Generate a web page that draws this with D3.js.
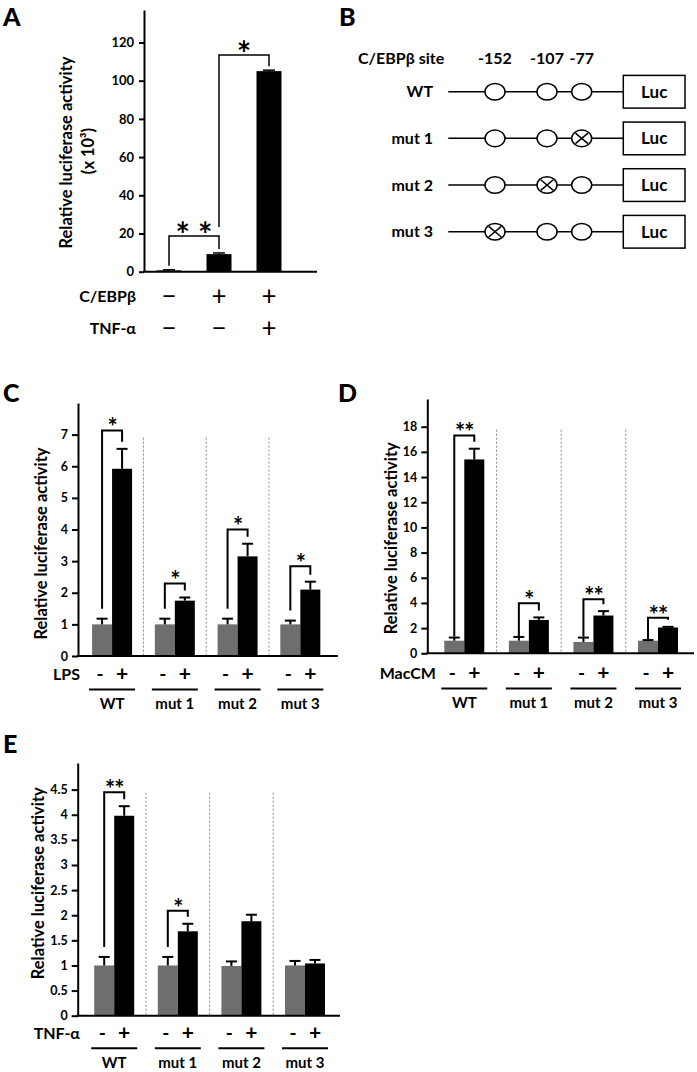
<!DOCTYPE html>
<html><head><meta charset="utf-8">
<script src="https://cdn.jsdelivr.net/npm/d3@7"></script>
<style>
body{margin:0;background:#fff;}
svg{display:block;}
</style></head><body>
<svg id="fig" width="697" height="1072"></svg>
<script>
// ---------------- DATA ----------------
// Panel A
const aGroups = ["a1", "a2", "a3"];
const aValues = [0.7, 9.2, 105.0];
const aErrors = [0.3, 0.6, 0.5];
const aCebpb = ["−", "+", "+"];
const aTnf = ["−", "−", "+"];
const aTicks = [0, 20, 40, 60, 80, 100, 120];
const aSigFrom = [0, 1];
const aSigTo = [1, 2];
const aSigLevel = [18.7, 113.4];
const aSigLabel = ["* *", "*"];

// Panel B
const bConstructs = ["WT", "mut 1", "mut 2", "mut 3"];
const bSites = [-152, -107, -77];
const bMutated = [null, -77, -107, -152];

// Panels C, D, E
const groups = ["WT", "mut 1", "mut 2", "mut 3"];

const cCtrl = [1.0, 1.0, 1.0, 1.0];
const cCtrlSd = [0.18, 0.18, 0.18, 0.12];
const cTreat = [5.92, 1.75, 3.15, 2.10];
const cTreatSd = [0.63, 0.10, 0.40, 0.25];
const cTicks = [0, 1, 2, 3, 4, 5, 6, 7];
const cSigLevel = [7.13, 2.29, 4.0, 2.84];
const cSigLabel = ["*", "*", "*", "*"];

const dCtrl = [1.0, 1.0, 0.9, 1.0];
const dCtrlSd = [0.25, 0.30, 0.35, 0.05];
const dTreat = [15.4, 2.65, 3.0, 2.05];
const dTreatSd = [0.85, 0.20, 0.35, 0.05];
const dTicks = [0, 2, 4, 6, 8, 10, 12, 14, 16, 18];
const dSigLevel = [17.3, 3.97, 4.29, 2.83];
const dSigLabel = ["**", "*", "**", "**"];

const eCtrl = [1.0, 1.0, 0.99, 1.0];
const eCtrlSd = [0.17, 0.17, 0.09, 0.09];
const eTreat = [3.98, 1.68, 1.88, 1.04];
const eTreatSd = [0.19, 0.15, 0.13, 0.07];
const eTicks = [0, 0.5, 1, 1.5, 2, 2.5, 3, 3.5, 4, 4.5];
const eSigLevel = [4.45, 2.09, null, null];
const eSigLabel = ["**", "*", null, null];

// ---------------- DRAWING ----------------
const FONT = "Lato, 'Open Sans', 'DejaVu Sans', sans-serif";
const GRAY = "#6e6e6e";
const svg = d3.select("#fig").style("font-family", FONT);

function txt(g, x, y, s, size, opts = {}) {
  return g.append("text")
    .attr("x", x).attr("y", y)
    .attr("dy", opts.dy || "0.35em")
    .attr("text-anchor", opts.anchor || "middle")
    .attr("font-weight", opts.weight || "bold")
    .attr("font-size", size)
    .attr("fill", "#000")
    .text(s);
}

function styleAxis(sel, fs) {
  sel.select(".domain").attr("stroke", "#000").attr("stroke-width", 2);
  sel.selectAll(".tick line").attr("stroke", "#000").attr("stroke-width", 2);
  sel.selectAll(".tick text").attr("font-size", fs).attr("font-weight", "bold")
    .attr("font-family", FONT).attr("fill", "#000");
  sel.attr("font-family", FONT);
}

// fit title size so that text spans target width
const TITLE_STR = "Relative luciferase activity";
const probe = svg.append("text").attr("font-size", 100).attr("font-weight", "bold").text(TITLE_STR);
const probeLen = probe.node().getComputedTextLength();
probe.remove();
const TITLE_FS = 100 * 192 / probeLen;

function rotTitle(g, x, y, s, fs) {
  g.append("text")
    .attr("transform", `translate(${x},${y}) rotate(-90)`)
    .attr("text-anchor", "middle").attr("dy", "0.35em")
    .attr("font-weight", "bold").attr("font-size", fs)
    .text(s);
}

function line(g, x1, y1, x2, y2, w = 2, color = "#000") {
  return g.append("line").attr("x1", x1).attr("y1", y1).attr("x2", x2).attr("y2", y2)
    .attr("stroke", color).attr("stroke-width", w);
}

// Panel letters
[["A", 3, 26], ["B", 339, 26], ["C", 3, 402], ["D", 338, 402], ["E", 3, 753]].forEach(([l, x, y]) => {
  svg.append("text").attr("x", x).attr("y", y).attr("font-size", 25).attr("font-weight", "900").text(l);
});

// ---------- Panel A ----------
(function () {
  const g = svg.append("g");
  const x = d3.scaleBand().domain(aGroups).range([144, 294]).paddingInner(0.5).paddingOuter(0.25);
  const y = d3.scaleLinear().domain([0, 137]).range([271.7, 10]);
  const cx = i => x(aGroups[i]) + x.bandwidth() / 2;

  g.append("g").attr("transform", "translate(144,0)")
    .call(d3.axisLeft(y).tickValues(aTicks).tickSize(5).tickPadding(5).tickSizeOuter(0))
    .call(styleAxis, 13);
  line(g, 143, y(0), 317, y(0), 2);

  g.selectAll("rect.bar").data(aValues).join("rect")
    .attr("x", (d, i) => x(aGroups[i])).attr("width", x.bandwidth())
    .attr("y", d => y(d)).attr("height", d => y(0) - y(d)).attr("fill", "#000");
  aValues.forEach((v, i) => {
    line(g, cx(i), y(v), cx(i), y(v + aErrors[i]), 1.5);
    line(g, cx(i) - 6, y(v + aErrors[i]), cx(i) + 6, y(v + aErrors[i]), 1.5);
  });

  aSigLevel.forEach((lev, k) => {
    const f = aSigFrom[k], t = aSigTo[k];
    const top = y(lev);
    let leftBottom = y(aValues[f] + aErrors[f]) - 4;
    aSigLevel.forEach((lev2, k2) => {
      if (k2 !== k && lev2 < lev && aSigFrom[k2] <= f && aSigTo[k2] >= f) leftBottom = y(lev2) - 9;
    });
    const rightBottom = y(aValues[t] + aErrors[t]) - 4;
    g.append("path")
      .attr("d", `M${cx(f)},${leftBottom}V${top}H${cx(t)}V${rightBottom}`)
      .attr("fill", "none").attr("stroke", "#000").attr("stroke-width", 1.5);
    const fs = 34;
    g.append("text").attr("x", (cx(f) + cx(t)) / 2).attr("y", top - 9 + 0.6 * fs)
      .attr("text-anchor", "middle").attr("font-size", fs).attr("font-weight", "bold")
      .text(aSigLabel[k]);
  });

  txt(g, 136, 296.7, "C/EBPβ", 16, { anchor: "end" });
  txt(g, 136, 328, "TNF-α", 16, { anchor: "end" });
  aCebpb.forEach((s, i) => txt(g, cx(i), 296.7, s, 26, { weight: "normal", dy: "0.33em" }));
  aTnf.forEach((s, i) => txt(g, cx(i), 328, s, 26, { weight: "normal", dy: "0.33em" }));

  rotTitle(g, 66.7, 152.5, TITLE_STR, TITLE_FS);
  rotTitle(g, 88.3, 151, "(x 10³)", TITLE_FS);
})();

// ---------- Panel B ----------
(function () {
  const g = svg.append("g");
  const row = d3.scalePoint().domain(bConstructs).range([91.7, 231.7]);
  const sx = d3.scaleLinear().domain([-152, -77]).range([495, 581.7]);
  txt(g, 358, 58.3, "C/EBPβ site", 16, { anchor: "start" });
  bSites.forEach(s => txt(g, sx(s), 58.3, String(s), 16));
  bConstructs.forEach((c, i) => {
    const yy = row(c);
    txt(g, 433, yy, c, 16, { anchor: "end" });
    line(g, 448.3, yy, 623.3, yy, 1.5);
    bSites.forEach(s => {
      g.append("ellipse").attr("cx", sx(s)).attr("cy", yy).attr("rx", 10).attr("ry", 8.3)
        .attr("fill", "#fff").attr("stroke", "#000").attr("stroke-width", 1.5);
      if (bMutated[i] === s) {
        const dx = 6.3, dy = 5.3;
        line(g, sx(s) - dx, yy - dy, sx(s) + dx, yy + dy, 1.5);
        line(g, sx(s) - dx, yy + dy, sx(s) + dx, yy - dy, 1.5);
      }
    });
    g.append("rect").attr("x", 623.3).attr("y", yy - 16.3).attr("width", 61.7).attr("height", 32.7)
      .attr("fill", "#fff").attr("stroke", "#000").attr("stroke-width", 1.5);
    txt(g, 654.2, yy, "Luc", 17);
  });
})();

// ---------- Panels C, D, E ----------
function groupedPanel(o) {
  const g = svg.append("g");
  const x = d3.scaleBand().domain(groups).range(o.xRange).padding(0);
  const y = d3.scaleLinear().domain(o.yDomain).range(o.yRange);
  const c = i => x(groups[i]) + x.bandwidth() / 2;
  const bw = 20;
  const base = y(0);

  // separators
  const sepTop = y(o.ticks[o.ticks.length - 1]) + 3;
  groups.slice(1).forEach(gr => {
    line(g, x(gr), sepTop, x(gr), base, 1, "#8a8a8a").attr("stroke-dasharray", "2,2");
  });

  g.append("g").attr("transform", `translate(${o.axisX},0)`)
    .call(d3.axisLeft(y).tickValues(o.ticks).tickFormat(d3.format("~g")).tickSize(6).tickPadding(4).tickSizeOuter(0))
    .call(styleAxis, 12.5);

  // bars
  g.selectAll("rect.ctrl").data(o.ctrl).join("rect").attr("class", "ctrl")
    .attr("x", (d, i) => c(i) - bw).attr("width", bw)
    .attr("y", d => y(d)).attr("height", d => base - y(d)).attr("fill", GRAY);
  g.selectAll("rect.trt").data(o.treat).join("rect").attr("class", "trt")
    .attr("x", (d, i) => c(i)).attr("width", bw)
    .attr("y", d => y(d)).attr("height", d => base - y(d)).attr("fill", "#000");

  line(g, o.axisX - 1, base, o.baseEnd, base, 2);

  // error bars
  const err = (xc, v, sd) => {
    line(g, xc, y(v), xc, y(v + sd), 2);
    line(g, xc - 5.5, y(v + sd), xc + 5.5, y(v + sd), 2);
  };
  o.ctrl.forEach((v, i) => err(c(i) - bw / 2, v, o.ctrlSd[i]));
  o.treat.forEach((v, i) => err(c(i) + bw / 2, v, o.treatSd[i]));

  // significance brackets
  o.sigLevel.forEach((lev, i) => {
    if (lev == null) return;
    const xl = c(i) - bw / 2, xr = c(i) + bw / 2;
    const top = y(lev);
    const lb = y(o.ctrl[i] + o.ctrlSd[i]) - o.leftGap;
    const rb = y(o.treat[i] + o.treatSd[i]) - 7;
    g.append("path").attr("d", `M${xl},${lb}V${top}H${xr}V${rb}`)
      .attr("fill", "none").attr("stroke", "#000").attr("stroke-width", 2);
    const fs = 24;
    g.append("text").attr("x", (xl + xr) / 2).attr("y", top - 8.5 + 0.6 * fs)
      .attr("text-anchor", "middle").attr("font-size", fs).attr("font-weight", "bold")
      .attr("letter-spacing", -1)
      .text(o.sigLabel[i]);
  });

  // treatment row
  txt(g, o.rowLabelX, o.rowY, o.rowLabel, 16, { anchor: "end" });
  groups.forEach((gr, i) => {
    txt(g, c(i) - bw / 2 - 2, o.rowY, "-", 19);
    txt(g, c(i) + bw / 2, o.rowY, "+", 21, { dy: "0.33em" });
    line(g, c(i) - 23, o.lineY, c(i) + 23, o.lineY, 2);
    txt(g, c(i), o.nameY, gr, 15);
  });

  rotTitle(g, o.titleX, o.titleY, TITLE_STR, TITLE_FS);
}

groupedPanel({
  xRange: [80.7, 331.7], axisX: 78, baseEnd: 338,
  yDomain: [0, 8], yRange: [656, 403], ticks: cTicks,
  ctrl: cCtrl, ctrlSd: cCtrlSd, treat: cTreat, treatSd: cTreatSd,
  sigLevel: cSigLevel, sigLabel: cSigLabel, leftGap: 10,
  rowLabel: "LPS", rowLabelX: 80, rowY: 674.5, lineY: 689.5, nameY: 703.5,
  titleX: 41.7, titleY: 543.5
});

groupedPanel({
  xRange: [432, 690.3], axisX: 427.3, baseEnd: 694,
  yDomain: [0, 20.2], yRange: [653.3, 399], ticks: dTicks,
  ctrl: dCtrl, ctrlSd: dCtrlSd, treat: dTreat, treatSd: dTreatSd,
  sigLevel: dSigLevel, sigLabel: dSigLabel, leftGap: 1,
  rowLabel: "MacCM", rowLabelX: 436, rowY: 673.5, lineY: 688.5, nameY: 702.5,
  titleX: 391.7, titleY: 538.3
});

groupedPanel({
  xRange: [82.4, 336.8], axisX: 77.7, baseEnd: 340,
  yDomain: [0, 5.03], yRange: [1015.7, 763], ticks: eTicks,
  ctrl: eCtrl, ctrlSd: eCtrlSd, treat: eTreat, treatSd: eTreatSd,
  sigLevel: eSigLevel, sigLabel: eSigLabel, leftGap: 10,
  rowLabel: "TNF-α", rowLabelX: 80, rowY: 1033.3, lineY: 1048.3, nameY: 1063,
  titleX: 38.3, titleY: 883.3
});
</script>
</body></html>
